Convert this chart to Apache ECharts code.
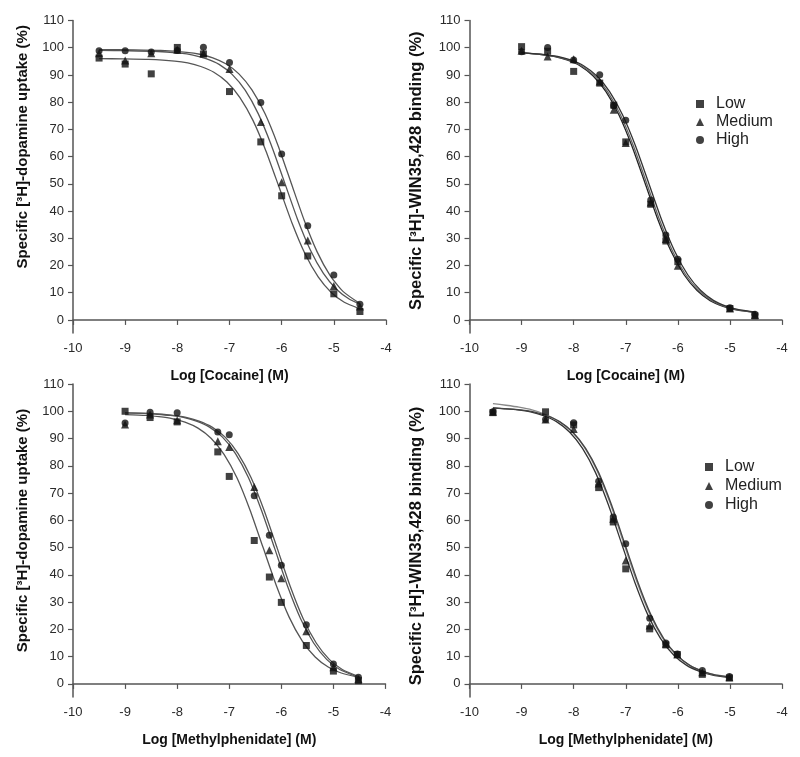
<!DOCTYPE html>
<html><head><meta charset="utf-8">
<script src="https://cdn.jsdelivr.net/npm/echarts@6/dist/echarts.min.js"></script>
<style>html,body{margin:0;padding:0;background:#fff}#c{width:800px;height:757px}</style>
</head><body><div id="c"></div>
<script>
// ---------- tick labels ----------
const xTicks = [-10, -9, -8, -7, -6, -5, -4];
const yTicks = [0, 10, 20, 30, 40, 50, 60, 70, 80, 90, 100, 110];
const levels = ['Low', 'Medium', 'High'];

// ---------- Panel A: cocaine, [3H]-dopamine uptake ----------
const cocUptakeX = [-9.5, -9, -8.5, -8, -7.5, -7, -6.4, -6, -5.5, -5, -4.5];
const cocUptakeLow = [96.2, 94.0, 90.4, 100.1, 97.7, 83.9, 65.4, 45.6, 23.5, 9.6, 3.1];
const cocUptakeMedium = [98.0, 95.3, 98.0, 99.3, 98.0, 92.2, 72.7, 50.6, 29.2, 12.5, 4.9];
const cocUptakeHigh = [98.9, 98.9, 98.4, 99.0, 100.2, 94.6, 79.9, 61.0, 34.6, 16.5, 5.8];
const cocUptakeLowFit = [[-9.5,96.0],[-9.05,95.9],[-8.55,95.7],[-8.05,95.1],[-7.8,94.4],[-7.55,93.1],[-7.3,91.0],[-7.05,87.4],[-6.8,81.7],[-6.55,73.3],[-6.3,62.0],[-6.05,48.8],[-5.8,35.5],[-5.55,24.2],[-5.3,15.8],[-5.05,10.1],[-4.8,6.5],[-4.5,4.1]];
const cocUptakeMediumFit = [[-9.5,99.0],[-8.95,98.9],[-8.45,98.7],[-7.95,98.0],[-7.7,97.3],[-7.45,96.0],[-7.2,93.9],[-6.95,90.2],[-6.7,84.4],[-6.45,75.8],[-6.2,64.3],[-5.95,50.8],[-5.7,37.2],[-5.45,25.7],[-5.2,17.1],[-4.95,11.3],[-4.7,7.6],[-4.5,5.8]];
const cocUptakeHighFit = [[-9.5,99.3],[-8.82,99.2],[-8.32,99.0],[-7.82,98.3],[-7.57,97.6],[-7.32,96.3],[-7.07,94.1],[-6.82,90.4],[-6.57,84.5],[-6.32,75.8],[-6.07,64.1],[-5.82,50.4],[-5.57,36.7],[-5.32,25.0],[-5.07,16.3],[-4.82,10.4],[-4.5,6.0]];

// ---------- Panel B: cocaine, [3H]-WIN35,428 binding ----------
const cocBindX = [-9, -8.5, -8, -7.5, -7.23, -7, -6.52, -6.23, -6, -5, -4.52];
const cocBindLow = [100.4, 98.7, 91.3, 87.0, 78.9, 65.4, 42.5, 29.0, 21.4, 4.2, 1.5];
const cocBindMedium = [98.9, 96.8, 95.8, 87.6, 77.2, 65.0, 43.1, 29.7, 19.9, 4.2, 1.8];
const cocBindHigh = [98.5, 100.1, 95.5, 90.1, 78.7, 73.4, 44.1, 31.2, 22.3, 4.5, 2.1];
const cocBindLowFit = [[-9.0,98.1],[-8.63,97.5],[-8.38,96.8],[-8.13,95.5],[-7.88,93.4],[-7.63,89.7],[-7.38,83.9],[-7.13,75.3],[-6.88,63.8],[-6.63,50.3],[-6.38,36.7],[-6.13,25.2],[-5.88,16.6],[-5.63,10.8],[-5.38,7.1],[-5.13,5.0],[-4.88,3.7],[-4.5,2.7]];
const cocBindMediumFit = [[-9.0,98.1],[-8.6,97.5],[-8.35,96.8],[-8.1,95.5],[-7.85,93.4],[-7.6,89.7],[-7.35,83.9],[-7.1,75.3],[-6.85,63.8],[-6.6,50.3],[-6.35,36.7],[-6.1,25.2],[-5.85,16.6],[-5.6,10.8],[-5.35,7.1],[-5.1,5.0],[-4.85,3.7],[-4.5,2.8]];
const cocBindHighFit = [[-9.0,98.2],[-8.56,97.5],[-8.31,96.8],[-8.06,95.5],[-7.81,93.4],[-7.56,89.7],[-7.31,83.9],[-7.06,75.3],[-6.81,63.8],[-6.56,50.3],[-6.31,36.7],[-6.06,25.2],[-5.81,16.6],[-5.56,10.8],[-5.31,7.1],[-5.06,5.0],[-4.81,3.7],[-4.5,2.9]];

// ---------- Panel C: methylphenidate, [3H]-dopamine uptake ----------
const mphUptakeX = [-9, -8.52, -8, -7.22, -7, -6.52, -6.23, -6, -5.52, -5, -4.52];
const mphUptakeLow = [100.0, 97.7, 96.1, 85.1, 76.1, 52.6, 39.2, 29.9, 14.1, 4.7, 1.2];
const mphUptakeMedium = [95.1, 98.8, 96.7, 89.0, 86.9, 72.2, 49.0, 38.8, 19.3, 6.1, 1.8];
const mphUptakeHigh = [95.7, 99.6, 99.5, 92.4, 91.4, 69.0, 54.5, 43.5, 21.7, 7.3, 2.4];
const mphUptakeLowFit = [[-9.0,98.8],[-8.6,98.5],[-8.35,98.0],[-8.1,97.3],[-7.85,96.0],[-7.6,93.8],[-7.35,90.1],[-7.1,84.2],[-6.85,75.5],[-6.6,63.7],[-6.35,50.0],[-6.1,36.3],[-5.85,24.5],[-5.6,15.8],[-5.35,9.9],[-5.1,6.2],[-4.85,4.0],[-4.5,2.4]];
const mphUptakeMediumFit = [[-9.0,99.4],[-8.63,99.2],[-8.38,98.9],[-8.13,98.5],[-7.88,97.8],[-7.63,96.4],[-7.38,94.2],[-7.13,90.5],[-6.88,84.5],[-6.63,75.6],[-6.38,63.6],[-6.13,49.8],[-5.88,35.8],[-5.63,23.9],[-5.38,15.0],[-5.13,9.0],[-4.88,5.3],[-4.5,2.3]];
const mphUptakeHighFit = [[-9.0,99.4],[-8.58,99.2],[-8.33,98.9],[-8.08,98.5],[-7.83,97.8],[-7.58,96.4],[-7.33,94.2],[-7.08,90.5],[-6.83,84.5],[-6.58,75.6],[-6.33,63.6],[-6.08,49.8],[-5.83,35.8],[-5.58,23.9],[-5.33,15.0],[-5.08,9.0],[-4.83,5.3],[-4.5,2.6]];

// ---------- Panel D: methylphenidate, [3H]-WIN35,428 binding ----------
const mphBindX = [-9.55, -8.54, -8, -7.52, -7.24, -7, -6.54, -6.23, -6.01, -5.53, -5.01];
const mphBindLow = [99.5, 99.8, 95.0, 72.0, 59.4, 42.2, 20.2, 14.3, 10.8, 3.5, 2.2];
const mphBindMedium = [99.8, 97.0, 93.5, 73.5, 60.6, 45.3, 21.4, 14.7, 10.8, 4.3, 2.4];
const mphBindHigh = [99.8, 97.0, 95.8, 74.3, 61.2, 51.4, 24.1, 15.0, 11.0, 4.9, 2.7];
const mphBindLowFit = [[-9.55,101.2],[-9.33,100.9],[-9.08,100.5],[-8.83,99.8],[-8.58,98.4],[-8.33,96.2],[-8.08,92.4],[-7.83,86.4],[-7.58,77.5],[-7.33,65.5],[-7.08,51.5],[-6.83,37.5],[-6.58,25.5],[-6.33,16.6],[-6.08,10.6],[-5.83,6.8],[-5.58,4.6],[-5.33,3.2],[-5.0,2.3]];
const mphBindMediumFit = [[-9.55,102.8],[-9.3,102.2],[-9.05,101.5],[-8.8,100.5],[-8.55,98.9],[-8.3,96.5],[-8.05,92.8],[-7.8,86.9],[-7.55,78.2],[-7.3,66.3],[-7.05,52.3],[-6.8,38.2],[-6.55,26.1],[-6.3,17.1],[-6.05,11.0],[-5.8,7.1],[-5.55,4.8],[-5.3,3.4],[-5.0,2.6]];
const mphBindHighFit = [[-9.55,101.2],[-9.27,100.9],[-9.02,100.5],[-8.77,99.8],[-8.52,98.4],[-8.27,96.2],[-8.02,92.4],[-7.77,86.4],[-7.52,77.5],[-7.27,65.5],[-7.02,51.5],[-6.77,37.5],[-6.52,25.5],[-6.27,16.6],[-6.02,10.6],[-5.77,6.8],[-5.52,4.6],[-5.27,3.2],[-5.0,2.5]];

// ---------- titles ----------
const xTitleCocaine = 'Log [Cocaine] (M)';
const xTitleMph = 'Log [Methylphenidate] (M)';
const yTitleUptake = 'Specific [\u00B3H]-dopamine uptake (%)';
const yTitleBinding = 'Specific [\u00B3H]-WIN35,428 binding (%)';

// ---------- build ----------
const FONT = '"Liberation Sans", Arial, Helvetica, sans-serif';
const AXIS_COLOR = '#555';
const TEXT_COLOR = '#2a2a2a';
const symbolOf = { Low: 'rect', Medium: 'triangle', High: 'circle' };
const sizeOf = { Low: 7, Medium: 8, High: 7 };

const panels = [
  { x: cocUptakeX, ys: [cocUptakeLow, cocUptakeMedium, cocUptakeHigh], fits: [cocUptakeLowFit, cocUptakeMediumFit, cocUptakeHighFit], fitColors: ['#555', '#555', '#555'], xName: xTitleCocaine, yName: yTitleUptake, yPad: [0, 0, 0, 60], yGap: 43, yFont: 15 },
  { x: cocBindX, ys: [cocBindLow, cocBindMedium, cocBindHigh], fits: [cocBindLowFit, cocBindMediumFit, cocBindHighFit], fitColors: ['#222', '#666', '#333'], xName: xTitleCocaine, yName: yTitleBinding, yPad: [0, 0, 0, 12], yGap: 45, yFont: 16.5 },
  { x: mphUptakeX, ys: [mphUptakeLow, mphUptakeMedium, mphUptakeHigh], fits: [mphUptakeLowFit, mphUptakeMediumFit, mphUptakeHighFit], fitColors: ['#555', '#555', '#555'], xName: xTitleMph, yName: yTitleUptake, yPad: [0, 0, 0, 20], yGap: 43, yFont: 15 },
  { x: mphBindX, ys: [mphBindLow, mphBindMedium, mphBindHigh], fits: [mphBindLowFit, mphBindMediumFit, mphBindHighFit], fitColors: ['#333', '#888', '#444'], xName: xTitleMph, yName: yTitleBinding, yPad: [0, 11, 0, 0], yGap: 45, yFont: 16.5 }
];

const grids = [
  { left: 73, top: 20.5, width: 313, height: 312.5 },
  { left: 469.5, top: 20.5, width: 312.5, height: 312.5 },
  { left: 73, top: 384, width: 312.5, height: 313 },
  { left: 469.5, top: 384, width: 312.5, height: 313 }
];

const xAxes = [], yAxes = [], series = [];
panels.forEach((p, i) => {
  xAxes.push({
    gridIndex: i, type: 'value', min: -10, max: -4, interval: 1,
    axisLine: { show: true, lineStyle: { color: AXIS_COLOR, width: 1.5 } },
    axisTick: { show: true, length: 5, lineStyle: { color: AXIS_COLOR, width: 1.2 } },
    axisLabel: { color: TEXT_COLOR, fontSize: 13, fontFamily: FONT, margin: 9 },
    splitLine: { show: false },
    name: p.xName, nameLocation: 'middle', nameGap: 36,
    nameTextStyle: { color: '#111', fontSize: 14, fontWeight: 'bold', fontFamily: FONT }
  });
  yAxes.push({
    gridIndex: i, type: 'value', min: -4.8, max: 110,
    axisLine: { show: true, lineStyle: { color: AXIS_COLOR, width: 1.5 } },
    axisTick: { show: true, length: 5, customValues: yTicks, lineStyle: { color: AXIS_COLOR, width: 1.2 } },
    axisLabel: { color: TEXT_COLOR, fontSize: 13, fontFamily: FONT, margin: 9, customValues: yTicks },
    splitLine: { show: false },
    name: p.yName, nameLocation: 'middle', nameRotate: 90, nameGap: p.yGap,
    nameTextStyle: { color: '#111', fontSize: p.yFont, fontWeight: 'bold', fontFamily: FONT, padding: p.yPad }
  });
  levels.forEach((lv, j) => {
    series.push({
      name: lv + ' fit ' + i, type: 'line', xAxisIndex: i, yAxisIndex: i,
      data: p.fits[j], showSymbol: false, smooth: 0.2,
      lineStyle: { color: p.fitColors[j], width: 1.3 }, z: 2, silent: true
    });
  });
  levels.forEach((lv, j) => {
    series.push({
      name: lv, type: 'scatter', xAxisIndex: i, yAxisIndex: i,
      data: p.x.map((v, k) => [v, p.ys[j][k]]),
      symbol: symbolOf[lv], symbolSize: sizeOf[lv],
      itemStyle: { color: '#111' }, z: 3
    });
  });
});

const legendData = [{ name: 'Low', icon: 'rect' }, { name: 'Medium', icon: 'triangle' }, { name: 'High', icon: 'circle' }];
function makeLegend(left, top, gap) {
  return {
    left: left, top: top, orient: 'vertical', data: legendData,
    itemWidth: 8, itemHeight: 8, itemGap: gap, selectedMode: false,
    textStyle: { fontSize: 16, color: '#222', fontFamily: FONT, padding: [0, 0, 0, 7] }
  };
}

const chart = echarts.init(document.getElementById('c'), null, { renderer: 'canvas' });
chart.setOption({
  animation: false,
  backgroundColor: '#fff',
  grid: grids,
  xAxis: xAxes,
  yAxis: yAxes,
  legend: [makeLegend(691, 91, 2), makeLegend(700, 454, 3)],
  series: series
});
</script></body></html>
